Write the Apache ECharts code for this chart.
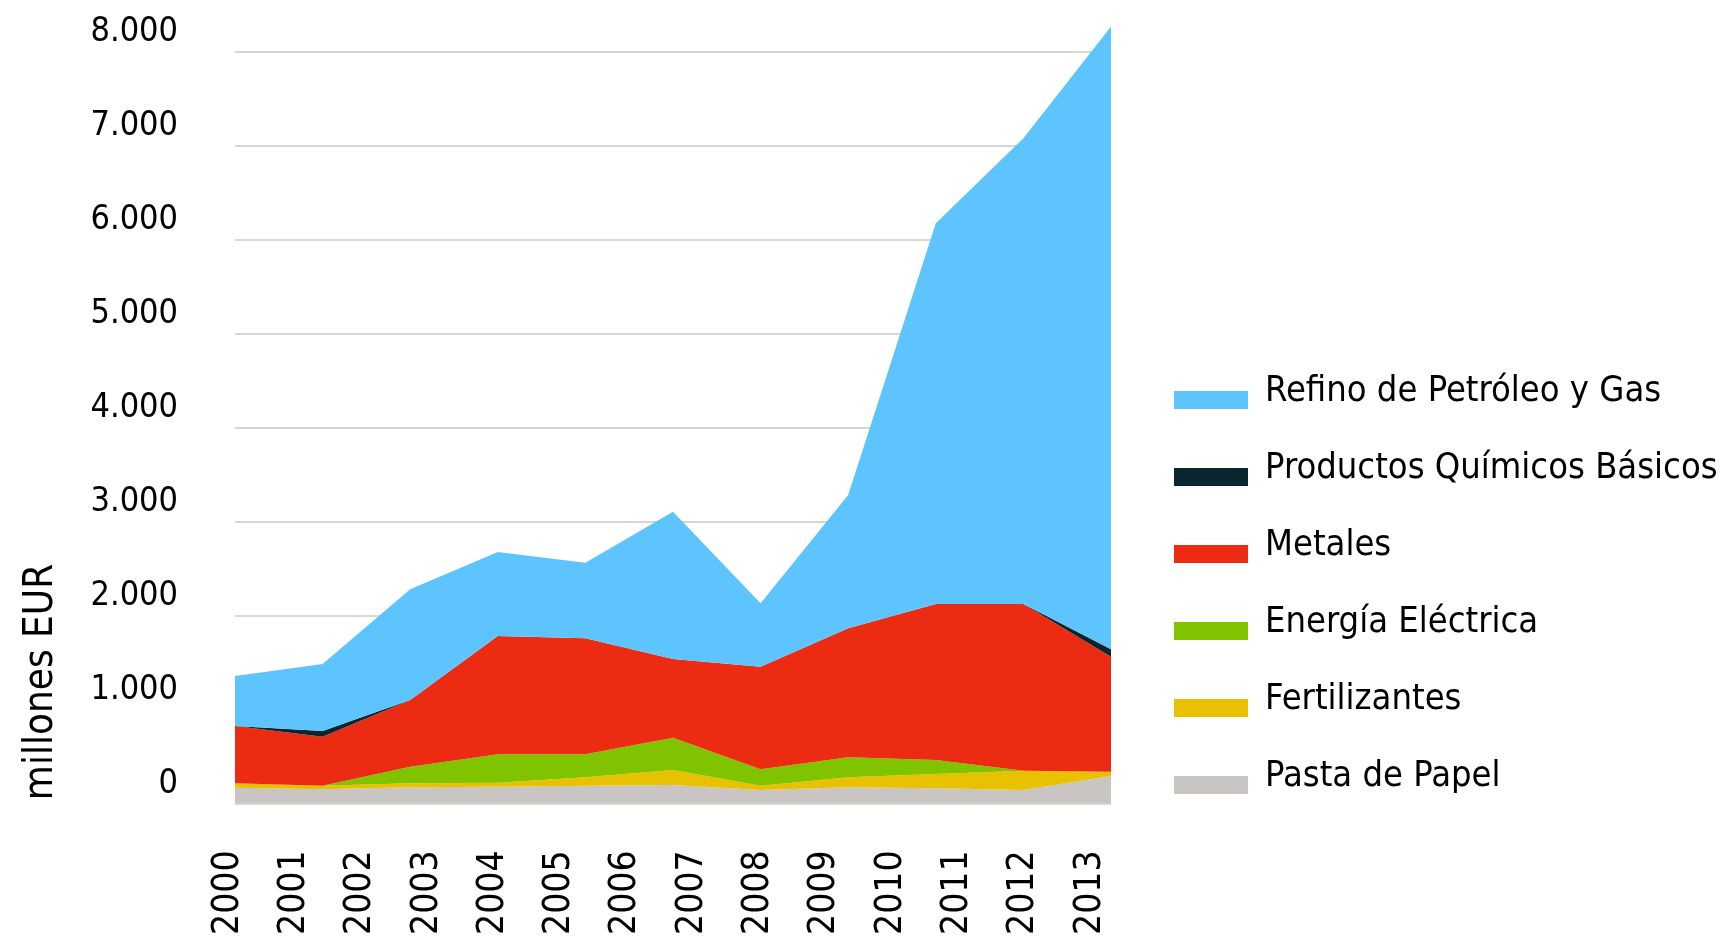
<!DOCTYPE html>
<html>
<head>
<meta charset="utf-8">
<script src="https://cdn.jsdelivr.net/npm/echarts@6/dist/echarts.min.js"></script>
<style>
  html, body { margin: 0; padding: 0; background: #fff; }
  #chart { width: 1728px; height: 938px; }
</style>
</head>
<body>
<div id="chart"></div>
<script>
// etiquetas del eje x
var years = ['2000', '2001', '2002', '2003', '2004', '2005', '2006',
  '2007', '2008', '2009', '2010', '2011', '2012', '2013']

// puntos de la serie (11 puntos, equiespaciados en el original)
var pointIndex = ['0', '1', '2', '3', '4', '5', '6', '7', '8', '9', '10']

// millones EUR, de abajo hacia arriba en la pila
var pastaPapel = [168, 151, 172, 179, 189, 197, 144, 172, 162, 144, 293]
var fertilizantes = [47, 38, 43, 42, 90, 159, 45, 107, 152, 205, 45]
var energiaElectrica = [0, 0, 177, 302, 244, 344, 175, 212, 149, 0, 0]
var metales = [609, 522, 709, 1259, 1234, 837, 1091, 1373, 1659, 1773, 1224]
var quimicosBasicos = [0, 60, 0, 0, 0, 0, 0, 0, 0, 0, 78]
var refinoPetroleo = [532, 713, 1177, 894, 805, 1567, 675, 1418, 4050, 4955, 6625]

var yTicks = [0, 1000, 2000, 3000, 4000, 5000, 6000, 7000, 8000]

var seriesDefs = [
  { name: 'Pasta de Papel', data: pastaPapel, color: '#c8c5c2' },
  { name: 'Fertilizantes', data: fertilizantes, color: '#e8c200' },
  { name: 'Energía Eléctrica', data: energiaElectrica, color: '#80c300' },
  { name: 'Metales', data: metales, color: '#eb2c12' },
  { name: 'Productos Químicos Básicos', data: quimicosBasicos, color: '#0a252e' },
  { name: 'Refino de Petróleo y Gas', data: refinoPetroleo, color: '#5ec4fe' }
]

var condFont = '"DejaVu Sans Condensed", "DejaVu Sans", sans-serif'

var myChart = echarts.init(document.getElementById('chart'), null, { renderer: 'canvas' })

var option = {
  animation: false,
  backgroundColor: '#fff',
  grid: [
    // area de datos
    { left: 235, right: 617, top: 23.3, bottom: 134.5 },
    // solo para las etiquetas de años
    { left: 228, right: 638, top: 23.3, bottom: 134.5 }
  ],
  xAxis: [
    {
      type: 'category',
      gridIndex: 0,
      data: pointIndex,
      boundaryGap: false,
      show: false
    },
    {
      type: 'category',
      gridIndex: 1,
      data: years,
      boundaryGap: false,
      axisLine: { show: false },
      axisTick: { show: false },
      splitLine: { show: false },
      axisLabel: {
        rotate: 90,
        margin: 48,
        interval: 0,
        color: '#000',
        fontFamily: condFont,
        fontSize: 37
      }
    }
  ],
  yAxis: [
    {
      type: 'value',
      gridIndex: 0,
      min: 0,
      max: 8300,
      interval: 1000,
      axisLine: { show: false },
      axisTick: { show: false },
      splitLine: {
        show: true,
        showMaxLine: false,
        lineStyle: { color: '#d6d6d6', width: 2 }
      },
      axisLabel: {
        showMaxLabel: false,
        margin: 57,
        color: '#000',
        fontFamily: condFont,
        fontSize: 34,
        lineHeight: 38,
        verticalAlign: 'bottom',
        formatter: function (value) {
          if (yTicks.indexOf(value) < 0) return ''
          return value === 0 ? '0' : (value / 1000) + '.000'
        }
      }
    },
    { type: 'value', gridIndex: 1, show: false }
  ],
  legend: {
    orient: 'vertical',
    left: 1174,
    top: 374,
    padding: 0,
    itemGap: 41,
    itemWidth: 74,
    itemHeight: 18,
    icon: 'rect',
    data: seriesDefs.slice().reverse().map(function (s) { return s.name }),
    // texto algo por encima del centro del icono, como en el original
    formatter: '{t|{name}}',
    textStyle: {
      padding: [0, 0, 16, 12],
      rich: {
        t: {
          color: '#000',
          fontFamily: condFont,
          fontSize: 36,
          lineHeight: 36
        }
      }
    }
  },
  graphic: [
    {
      type: 'text',
      x: 42,
      y: 682,
      rotation: Math.PI / 2,
      style: {
        text: 'millones EUR',
        fill: '#000',
        font: '40px "DejaVu Sans Condensed", "DejaVu Sans", sans-serif',
        textAlign: 'center',
        textVerticalAlign: 'middle'
      }
    }
  ],
  series: seriesDefs.map(function (s) {
    return {
      name: s.name,
      type: 'line',
      stack: 'total',
      xAxisIndex: 0,
      yAxisIndex: 0,
      symbol: 'none',
      color: s.color,
      itemStyle: { color: s.color },
      lineStyle: { width: 0 },
      areaStyle: { color: s.color, opacity: 1 },
      data: s.data
    }
  })
}

myChart.setOption(option)
</script>
</body>
</html>
